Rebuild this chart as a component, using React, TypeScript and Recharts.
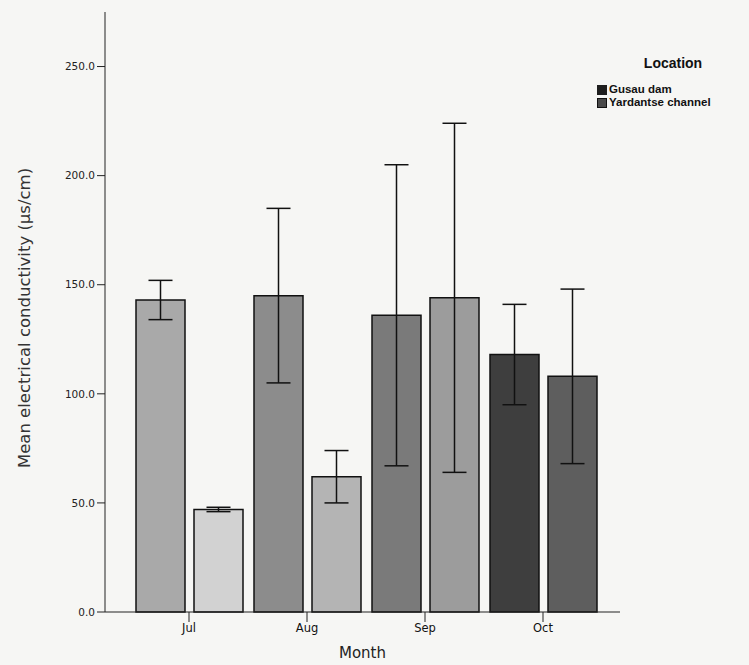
import React from 'react';
import { BarChart, Bar, XAxis, YAxis, ErrorBar, Cell } from 'recharts';

const months = ['Jul', 'Aug', 'Sep', 'Oct'];
const gusau = [143, 145, 136, 118];
const gusauErr = [9, 40, 69, 23];
const yardantse = [47, 62, 144, 108];
const yardantseErr = [1, 12, 80, 40];
const yTicks = [0, 50, 100, 150, 200, 250];
const seriesNames = ['Gusau dam', 'Yardantse channel'];

const gusauColors = ['#a9a9a9', '#8c8c8c', '#7a7a7a', '#3e3e3e'];
const yardColors = ['#d2d2d2', '#b4b4b4', '#9c9c9c', '#5e5e5e'];

const data = months.map((m, i) => ({
  month: m,
  gusau: gusau[i],
  gusauErr: gusauErr[i],
  yard: yardantse[i],
  yardErr: yardantseErr[i],
}));

const FONT = '"DejaVu Sans", sans-serif';

const LegendBox = () => (
  <div style={{ position: 'absolute', left: 597, top: 53, width: 152, fontFamily: 'Liberation Sans, Arial, sans-serif', color: '#111' }}>
    <div style={{ fontWeight: 'bold', fontSize: 14, textAlign: 'center', height: 20, lineHeight: '20px', marginBottom: 10 }}>Location</div>
    <div style={{ display: 'flex', alignItems: 'center', fontSize: 11.5, fontWeight: 'bold', lineHeight: '13px' }}>
      <span style={{ display: 'inline-block', width: 10, height: 10, background: '#1e1e1e', marginRight: 2 }} />
      {seriesNames[0]}
    </div>
    <div style={{ display: 'flex', alignItems: 'center', fontSize: 11.5, fontWeight: 'bold', lineHeight: '13px' }}>
      <span style={{ display: 'inline-block', width: 10, height: 10, background: '#4a4a4a', border: '1px solid #111', boxSizing: 'border-box', marginRight: 2 }} />
      {seriesNames[1]}
    </div>
  </div>
);

export default function App() {
  return (
    <div style={{ position: 'absolute', left: 0, top: 0, width: 749, height: 665, background: '#f6f6f4' }}>
      <BarChart
        width={749}
        height={665}
        data={data}
        margin={{ top: 12, right: 129, bottom: 23, left: 0 }}
        barCategoryGap={6}
        barGap={9}
      >
        <XAxis
          dataKey="month"
          padding={{ left: 25, right: 18 }}
          stroke="#222"
          tickSize={10}
          tick={{ fill: '#111', fontSize: 11.5, fontFamily: FONT }}
          height={30}
          label={{ value: 'Month', position: 'insideBottom', offset: -16, fill: '#222', fontSize: 15, fontFamily: FONT }}
        />
        <YAxis
          width={105}
          domain={[0, 275]}
          ticks={yTicks}
          tickFormatter={(v: number) => v.toFixed(1)}
          stroke="#222"
          tickSize={8}
          tick={{ fill: '#222', fontSize: 10.5, fontFamily: FONT }}
          label={{ value: 'Mean electrical conductivity (µs/cm)', angle: -90, position: 'insideLeft', offset: 24, dy: 6, style: { textAnchor: 'middle' }, fill: '#333', fontSize: 16.5, fontFamily: FONT }}
        />
        <Bar dataKey="gusau" name={seriesNames[0]} stroke="#111" strokeWidth={1.5} isAnimationActive={false}>
          {data.map((d, i) => (
            <Cell key={d.month} fill={gusauColors[i]} />
          ))}
          <ErrorBar dataKey="gusauErr" width={12} stroke="#111" strokeWidth={1.5} direction="y" />
        </Bar>
        <Bar dataKey="yard" name={seriesNames[1]} stroke="#111" strokeWidth={1.5} isAnimationActive={false}>
          {data.map((d, i) => (
            <Cell key={d.month} fill={yardColors[i]} />
          ))}
          <ErrorBar dataKey="yardErr" width={12} stroke="#111" strokeWidth={1.5} direction="y" />
        </Bar>
      </BarChart>
      <LegendBox />
    </div>
  );
}
